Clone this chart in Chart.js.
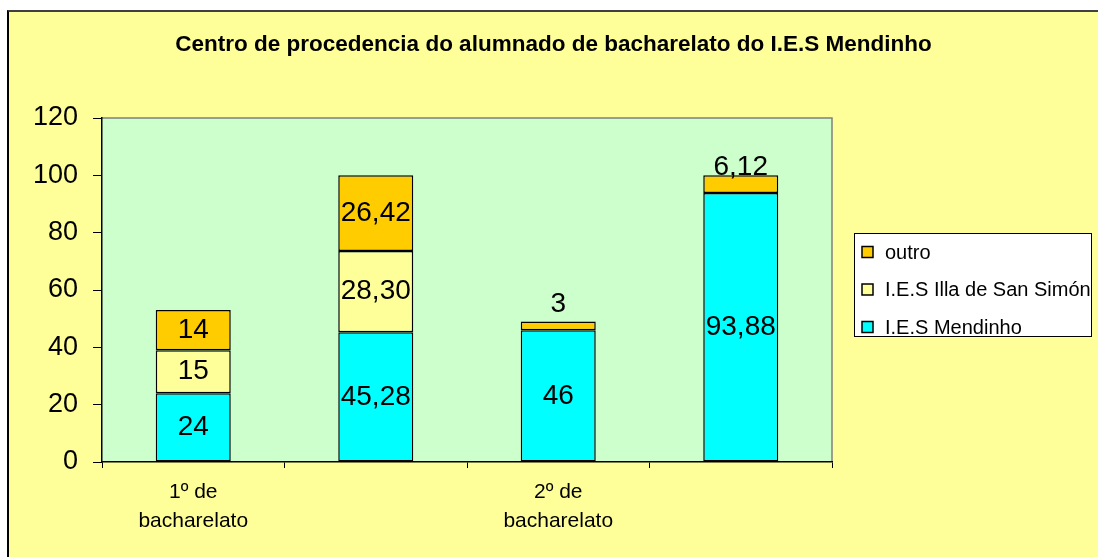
<!DOCTYPE html>
<html>
<head>
<meta charset="utf-8">
<script src="https://cdn.jsdelivr.net/npm/chart.js@4/dist/chart.umd.min.js"></script>
<style>
  html, body { margin: 0; padding: 0; background: #ffffff; width: 1098px; height: 557px; overflow: hidden; }
  #wrap { position: absolute; left: 7px; top: 10px; width: 1089px; height: 545px;
          border-top: 2px solid #404040; border-left: 2px solid #000000; background: #FFFF99; }
  canvas { display: block; }
</style>
</head>
<body>
<div id="wrap"><canvas id="c" width="1089" height="545"></canvas></div>
<script>
// ---- data ----
const titleText = "Centro de procedencia do alumnado de bacharelato do I.E.S Mendinho";
const categories = [["1º de", "bacharelato"], "", ["2º de", "bacharelato"], ""];
const seriesNames = ["I.E.S Mendinho", "I.E.S Illa de San Simón", "outro"];
const mendinho = [24, 45.28, 46, 93.88];
const illa = [15, 28.30, 0, 0];
const outro = [14, 26.42, 3, 6.12];
const yTicks = [0, 20, 40, 60, 80, 100, 120];

const colors = ["#00FFFF", "#FFFF99", "#FFCC00"];
const FONT = "'Liberation Sans', Arial, sans-serif";

function fmt(v) {
  return Number.isInteger(v) ? String(v) : v.toFixed(2).replace('.', ',');
}

const centerTitle = {
  id: 'centerTitle',
  afterLayout(chart) {
    const t = chart.titleBlock;
    if (t) { t.left = 0; t.right = chart.width; t.width = chart.width; }
  }
};

const plotBg = {
  id: 'plotBg',
  beforeDraw(chart) {
    const { ctx, chartArea: a } = chart;
    ctx.save();
    ctx.fillStyle = '#CCFFCC';
    ctx.fillRect(a.left, a.top, a.right - a.left, a.bottom - a.top);
    ctx.strokeStyle = '#808080';
    ctx.lineWidth = 1.5;
    ctx.beginPath();
    ctx.moveTo(a.left, a.top);
    ctx.lineTo(a.right, a.top);
    ctx.lineTo(a.right, a.bottom);
    ctx.stroke();
    ctx.restore();
  }
};

const valueLabels = {
  id: 'valueLabels',
  afterDatasetsDraw(chart) {
    const { ctx } = chart;
    ctx.save();
    ctx.font = "28px " + FONT;
    ctx.fillStyle = '#000';
    ctx.textAlign = 'center';
    ctx.textBaseline = 'middle';
    chart.data.datasets.forEach((ds, di) => {
      const meta = chart.getDatasetMeta(di);
      meta.data.forEach((el, i) => {
        const v = ds.data[i];
        if (!v) return;
        const h = el.base - el.y;
        let cy = (el.y + el.base) / 2;
        if (h < 25) cy = el.base - 26;
        ctx.fillText(fmt(v), el.x, cy);
      });
    });
    ctx.restore();
  }
};

const boxLegend = {
  id: 'boxLegend',
  afterDraw(chart) {
    const { ctx, chartArea: a } = chart;
    const L = a.right + 22, T = 221, W = 237, H = 103;
    ctx.save();
    ctx.fillStyle = '#FFFFFF';
    ctx.fillRect(L, T, W, H);
    ctx.strokeStyle = '#000';
    ctx.lineWidth = 1;
    ctx.strokeRect(L + 0.5, T + 0.5, W, H);
    ctx.font = "20px " + FONT;
    ctx.textAlign = 'left';
    ctx.textBaseline = 'middle';
    const order = chart.data.datasets.map((d, i) => i).reverse();
    order.forEach((di, row) => {
      const ds = chart.data.datasets[di];
      const cy = T + 19 + row * 37.5;
      ctx.fillStyle = ds.backgroundColor;
      ctx.fillRect(L + 8, cy - 5.5, 11, 11);
      ctx.strokeStyle = '#000';
      ctx.lineWidth = 1.5;
      ctx.strokeRect(L + 8, cy - 5.5, 11, 11);
      ctx.fillStyle = '#000';
      ctx.fillText(ds.label, L + 31, cy + 1);
    });
    ctx.restore();
  }
};

const seriesData = [mendinho, illa, outro];
const datasets = seriesNames.map((name, i) => ({
  label: name,
  data: seriesData[i],
  backgroundColor: colors[i],
  borderColor: '#000000',
  borderWidth: 1.5,
  borderSkipped: false,
  categoryPercentage: 1,
  barPercentage: 0.411
}));

new Chart(document.getElementById('c'), {
  type: 'bar',
  data: { labels: categories, datasets },
  plugins: [centerTitle, plotBg, valueLabels, boxLegend],
  options: {
    responsive: false,
    animation: false,
    devicePixelRatio: 1,
    layout: { padding: { left: 0, top: 0, right: 266, bottom: 0 } },
    plugins: {
      legend: { display: false },
      tooltip: { enabled: false },
      title: {
        display: true,
        text: titleText,
        color: '#000',
        font: { family: FONT, size: 22.5, weight: 'bold', lineHeight: 1.2 },
        padding: { top: 19.5, bottom: 59.5 }
      }
    },
    scales: {
      x: {
        stacked: true,
        grid: { display: true, drawOnChartArea: false, drawTicks: true, tickLength: 6, color: '#000', offset: true },
        border: { display: true, color: '#000', width: 1.5 },
        ticks: { color: '#000', font: { family: FONT, size: 21, lineHeight: 1.38 }, padding: 10, maxRotation: 0, autoSkip: false },
        afterFit(s) { s.height = 95; }
      },
      y: {
        stacked: true,
        min: 0,
        max: 120,
        afterBuildTicks(s) { s.ticks = yTicks.map(v => ({ value: v })); },
        grid: { display: true, drawOnChartArea: false, drawTicks: true, tickLength: 9, color: '#000' },
        border: { display: true, color: '#000', width: 1.5 },
        ticks: { color: '#000', font: { family: FONT, size: 27 }, padding: 15 },
        afterFit(s) { s.width = 93; }
      }
    }
  }
});
</script>
</body>
</html>
